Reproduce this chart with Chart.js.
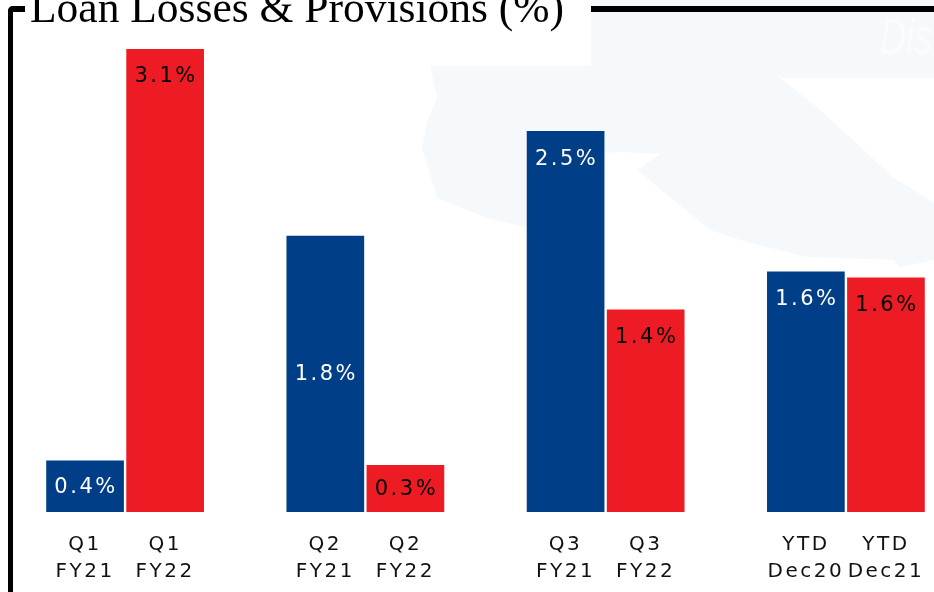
<!DOCTYPE html>
<html>
<head>
<meta charset="utf-8">
<title>Loan Losses & Provisions</title>
<script src="https://cdn.jsdelivr.net/npm/chart.js@4"></script>
<style>
  html, body { margin: 0; padding: 0; background: #fff; }
  #wrap { position: relative; width: 934px; height: 592px; overflow: hidden; }
  #wrap > * { position: absolute; left: 0; top: 0; }
  #frame-top { left: 8px; top: 6px; width: 926px; height: 6px; background: #000; border-top-left-radius: 5px; }
  #frame-left { left: 8px; top: 6px; width: 5px; height: 586px; background: #000; border-top-left-radius: 5px; }
  #title-box { left: 25px; top: 0; width: 566px; height: 66px; background: #fff; }
  #watermark-text { left: 880px; top: 8px; font: italic 50px "Liberation Sans"; color: #fbfcfe; white-space: nowrap; transform: scaleX(0.72); transform-origin: left top; }
</style>
</head>
<body>
<div id="wrap">
  <svg width="934" height="592">
    <polygon fill="#f6f9fc" points="430,66 591,66 591,0 934,0 934,78 783,78 773,72 817,107 853,140 893,177 934,203 934,260 900,267 893,260 807,257 750,243 710,230 637,170 660,154 623,152 604,153 527,228 487,218 437,198 422,148 427,122 437,98"/>
  </svg>
  <div id="frame-top"></div>
  <div id="frame-left"></div>
  <div id="title-box"></div>
  <div id="watermark-text">Dis</div>
  <canvas id="chart" width="934" height="592"></canvas>
</div>
<script>
const chart_title = 'Loan Losses & Provisions (%)';
const categories = [
  ['Q1', 'FY21'], ['Q1', 'FY22'], '',
  ['Q2', 'FY21'], ['Q2', 'FY22'], '',
  ['Q3', 'FY21'], ['Q3', 'FY22'], '',
  ['YTD', 'Dec20'], ['YTD', 'Dec21']
];
const values = [0.345, 3.1, null, 1.85, 0.315, null, 2.55, 1.355, null, 1.61, 1.57];
const value_labels = ['0.4%', '3.1%', '', '1.8%', '0.3%', '', '2.5%', '1.4%', '', '1.6%', '1.6%'];
const label_spots = ['center', 'end', '', 'center', 'center', '', 'end', 'end', '', 'end', 'end'];
const blue = '#003f87';
const red = '#ed1c24';
const bar_colors = [blue, red, blue, blue, red, blue, blue, red, blue, blue, red];

// bar value labels + wide letter spacing to match the stretched text of the original
const barLabels = {
  id: 'barLabels',
  afterDatasetsDraw(chart) {
    const ctx = chart.ctx;
    ctx.letterSpacing = '2.5px';
    ctx.font = '21px "DejaVu Sans"';
    ctx.textAlign = 'center';
    ctx.textBaseline = 'middle';
    chart.getDatasetMeta(0).data.forEach((bar, i) => {
      if (values[i] === null) return;
      ctx.fillStyle = bar_colors[i] === blue ? '#fff' : '#000';
      const y = label_spots[i] === 'end' ? bar.y + 28 : (bar.y + bar.base) / 2 + 1;
      ctx.fillText(value_labels[i], bar.x + 1, y);
    });
    ctx.letterSpacing = '2.5px';
  },
  afterDraw(chart) {
    chart.ctx.letterSpacing = '0px';
  }
};

const myChart = new Chart(document.getElementById('chart'), {
  type: 'bar',
  data: {
    labels: categories,
    datasets: [{
      data: values,
      backgroundColor: bar_colors,
      barPercentage: 0.97,
      categoryPercentage: 1
    }]
  },
  options: {
    responsive: false,
    animation: false,
    layout: { padding: { left: 30, right: 8, top: 0, bottom: 0 } },
    plugins: {
      legend: { display: false },
      tooltip: { enabled: false },
      title: {
        display: true,
        text: chart_title,
        align: 'start',
        color: '#000',
        font: { family: '"Liberation Serif"', size: 43.5, weight: 'normal', lineHeight: 1 },
        padding: { top: -11, bottom: 4.5 }
      }
    },
    scales: {
      x: {
        grid: { display: false },
        border: { display: false },
        ticks: {
          color: '#111',
          z: 1,
          autoSkip: false,
          maxRotation: 0,
          padding: 11,
          font: { family: '"DejaVu Sans"', size: 20, lineHeight: 1.35 }
        },
        afterFit(scale) { scale.height = 80; }
      },
      y: {
        min: 0,
        max: 3.18,
        grid: { display: false },
        border: { display: false },
        ticks: { display: false },
        afterFit(scale) { scale.width = 15; }
      }
    }
  },
  plugins: [barLabels]
});
</script>
</body>
</html>
